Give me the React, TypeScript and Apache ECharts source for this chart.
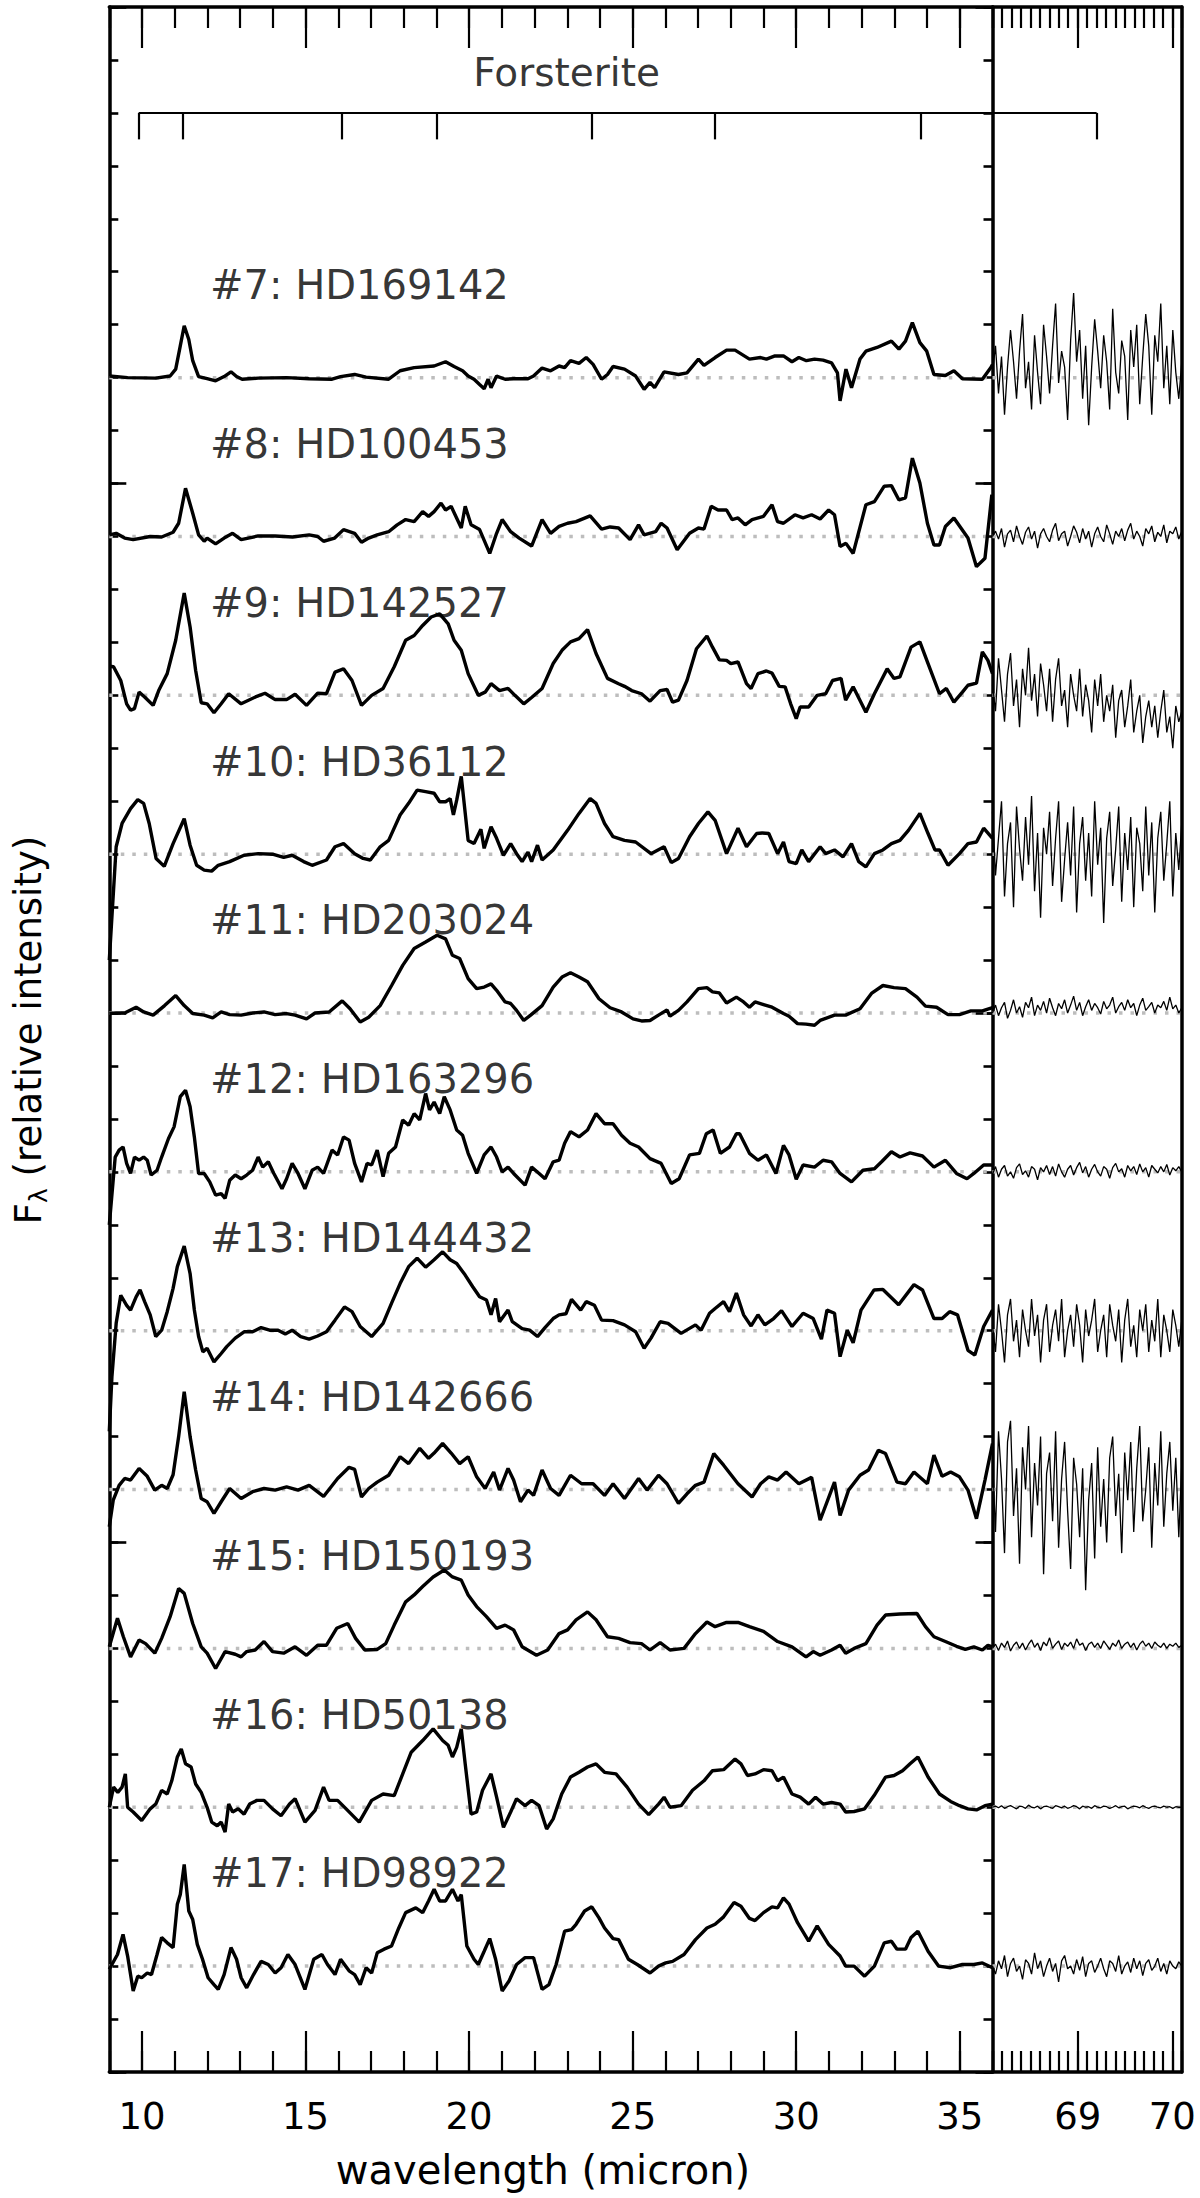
import React, { useEffect, useRef } from "react";
import * as echarts from "echarts";

const FONT = "'DejaVu Sans', 'Liberation Sans', sans-serif";

const LEFT_X_MIN = 9;
const LEFT_X_MAX = 36;
const RIGHT_X_MIN = 68.1;
const RIGHT_X_MAX = 70.1;
const Y_MIN = 0;
const Y_MAX = 39;

const LEFT_MAJOR_TICKS = [10, 15, 20, 25, 30, 35];
const LEFT_MINOR_TICKS = [9, 10, 11, 12, 13, 14, 15, 16, 17, 18, 19, 20, 21, 22, 23, 24, 25, 26, 27, 28, 29, 30, 31, 32, 33, 34, 35, 36];
const RIGHT_MAJOR_TICKS = [69, 70];
const RIGHT_MINOR_TICKS = [68.1, 68.2, 68.3, 68.4, 68.5, 68.6, 68.7, 68.8, 68.9, 69, 69.1, 69.2, 69.3, 69.4, 69.5, 69.6, 69.7, 69.8, 69.9, 70, 70.1];

const NAMES = ["#7: HD169142", "#8: HD100453", "#9: HD142527", "#10: HD36112", "#11: HD203024", "#12: HD163296", "#13: HD144432", "#14: HD142666", "#15: HD150193", "#16: HD50138", "#17: HD98922"];
const BASELINES = [32, 29, 26, 23, 20, 17, 14, 11, 8, 5, 2];
const LABEL_X = 12.08;
const LABEL_DY = 1.75;

const FORSTERITE_BANDS_LEFT = [9.9, 11.25, 16.1, 19.0, 23.75, 27.5, 33.8];
const FORSTERITE_BANDS_RIGHT = [69.2];
const FORSTERITE_Y = 37;
const FORSTERITE_TICK = 0.5;
const FORSTERITE_LABEL = [22.98, 37.77];

const S7 = [[9.0,0.03],[9.56,0],[10.42,-0.01],[10.86,0.03],[11.03,0.16],[11.17,0.6],[11.29,0.98],[11.43,0.72],[11.55,0.32],[11.73,0.02],[11.99,-0.02],[12.25,-0.06],[12.51,0.02],[12.72,0.11],[12.89,0.02],[13.06,-0.03],[13.55,-0.01],[14.42,0],[15.11,-0.02],[15.81,-0.03],[16.07,0.02],[16.5,0.06],[16.85,0.01],[17.54,-0.03],[17.89,0.13],[18.32,0.19],[18.93,0.22],[19.28,0.3],[19.54,0.21],[19.8,0.13],[19.97,0.03],[20.15,-0.03],[20.32,-0.13],[20.46,-0.21],[20.58,-0.03],[20.67,-0.19],[20.84,0.03],[21.1,-0.03],[21.36,-0.02],[21.8,-0.02],[21.97,0.03],[22.23,0.18],[22.49,0.13],[22.75,0.22],[22.92,0.19],[23.1,0.32],[23.36,0.27],[23.58,0.38],[23.79,0.25],[24.05,-0.03],[24.23,0.06],[24.4,0.21],[24.75,0.16],[25.09,0.03],[25.35,-0.22],[25.53,-0.09],[25.67,-0.19],[25.96,0.11],[26.4,0.06],[26.66,0.09],[27.01,0.35],[27.18,0.23],[27.52,0.38],[27.87,0.52],[28.13,0.52],[28.57,0.35],[28.91,0.38],[29.09,0.35],[29.35,0.41],[29.61,0.41],[29.87,0.3],[30.08,0.38],[30.31,0.32],[30.56,0.35],[30.82,0.33],[31.08,0.28],[31.26,0.09],[31.34,-0.44],[31.52,0.16],[31.69,-0.19],[31.95,0.35],[32.13,0.5],[32.47,0.57],[32.91,0.69],[33.14,0.54],[33.34,0.69],[33.55,1.04],[33.78,0.66],[33.99,0.5],[34.21,0.06],[34.56,0.04],[34.82,0.13],[35.08,-0.02],[35.69,-0.03],[35.95,0.19],[36.0,0.25]];

const S8 = [[9.0,0.03],[9.21,0.06],[9.47,-0.03],[9.73,-0.06],[10.25,0],[10.6,-0.01],[10.95,0.08],[11.12,0.25],[11.33,0.91],[11.55,0.44],[11.73,0.03],[11.9,-0.09],[11.99,-0.03],[12.25,-0.14],[12.51,-0.03],[12.77,0.06],[13.03,-0.06],[13.55,0.01],[14.07,0.01],[14.6,-0.01],[15.11,0.03],[15.37,0],[15.55,-0.09],[15.89,-0.03],[16.16,0.13],[16.5,0.06],[16.71,-0.11],[16.93,-0.03],[17.19,0.03],[17.54,0.09],[17.8,0.22],[18.06,0.32],[18.32,0.28],[18.58,0.47],[18.76,0.38],[18.93,0.47],[19.14,0.63],[19.28,0.5],[19.45,0.57],[19.76,0.16],[19.88,0.57],[20.06,0.22],[20.32,0.13],[20.63,-0.32],[20.84,0.06],[21.01,0.32],[21.27,0.09],[21.53,-0.03],[21.91,-0.18],[22.23,0.32],[22.49,0.06],[22.75,0.19],[23.01,0.25],[23.27,0.28],[23.7,0.39],[24.05,0.14],[24.31,0.18],[24.57,0.16],[24.92,-0.06],[25.18,0.22],[25.35,0.03],[25.7,0.09],[25.87,0.25],[26.05,0.16],[26.36,-0.25],[26.74,0.06],[27.01,0.16],[27.18,0.14],[27.4,0.57],[27.61,0.5],[27.87,0.5],[28.04,0.32],[28.22,0.35],[28.44,0.22],[28.65,0.32],[29.0,0.38],[29.26,0.6],[29.43,0.28],[29.61,0.25],[29.96,0.41],[30.21,0.35],[30.47,0.41],[30.73,0.33],[30.99,0.5],[31.17,0.41],[31.34,-0.19],[31.52,-0.13],[31.74,-0.32],[32.13,0.6],[32.39,0.66],[32.69,0.95],[32.91,0.96],[33.14,0.69],[33.34,0.73],[33.55,1.48],[33.78,1.01],[34.01,0.25],[34.21,-0.16],[34.38,-0.16],[34.56,0.19],[34.82,0.35],[35.25,-0.03],[35.51,-0.57],[35.77,-0.41],[35.98,0.79]];

const S9 = [[9.0,0.55],[9.13,0.54],[9.35,0.28],[9.53,-0.16],[9.65,-0.28],[9.77,-0.25],[9.91,0.06],[10.08,-0.03],[10.34,-0.19],[10.51,0.09],[10.77,0.41],[11.03,1.04],[11.29,1.93],[11.47,1.29],[11.64,0.47],[11.81,-0.14],[11.99,-0.16],[12.2,-0.33],[12.42,-0.16],[12.65,0.03],[13.03,-0.16],[13.47,-0.03],[13.76,0.04],[14.07,-0.08],[14.42,-0.08],[14.68,0.02],[15.03,-0.19],[15.37,0.04],[15.64,0.03],[15.9,0.44],[16.16,0.5],[16.42,0.28],[16.71,-0.19],[17.02,0],[17.37,0.13],[17.71,0.54],[18.06,1.04],[18.32,1.13],[18.58,1.32],[18.84,1.48],[19.1,1.54],[19.36,1.35],[19.54,1.04],[19.76,0.85],[19.97,0.41],[20.28,0],[20.49,0.06],[20.67,0.22],[20.93,0.09],[21.19,0.13],[21.4,0],[21.67,-0.16],[21.91,-0.04],[22.23,0.13],[22.57,0.6],[22.84,0.85],[23.1,1.01],[23.36,1.07],[23.62,1.24],[23.88,0.79],[24.23,0.32],[24.57,0.22],[24.75,0.17],[24.97,0.09],[25.27,0.03],[25.53,-0.11],[25.84,0.09],[26.05,0.11],[26.22,-0.13],[26.4,-0.09],[26.66,0.28],[26.95,0.88],[27.27,1.12],[27.44,0.91],[27.65,0.67],[27.87,0.66],[28.0,0.6],[28.22,0.63],[28.48,0.22],[28.62,0.13],[28.83,0.41],[29.09,0.46],[29.26,0.42],[29.48,0.17],[29.66,0.16],[29.83,-0.16],[30.0,-0.44],[30.12,-0.22],[30.38,-0.22],[30.64,0],[30.9,0.03],[31.11,0.28],[31.37,0.32],[31.51,-0.09],[31.74,0.16],[32.13,-0.32],[32.39,0.03],[32.78,0.5],[32.99,0.32],[33.17,0.35],[33.51,0.91],[33.78,1.01],[34.03,0.6],[34.38,0.03],[34.59,0.13],[34.82,-0.13],[35.08,0.06],[35.25,0.19],[35.51,0.23],[35.69,0.82],[35.86,0.66],[36.0,0.41]];

const S10 = [[9.0,-2.0],[9.21,0.14],[9.39,0.58],[9.65,0.86],[9.87,1.03],[10.05,0.96],[10.22,0.58],[10.43,-0.08],[10.68,-0.23],[10.95,0.2],[11.29,0.67],[11.47,0.17],[11.67,-0.21],[11.9,-0.3],[12.13,-0.32],[12.33,-0.21],[12.68,-0.14],[13.12,-0.02],[13.55,0.01],[13.99,0],[14.33,-0.06],[14.59,-0.02],[14.94,-0.14],[15.2,-0.21],[15.64,-0.11],[15.9,0.14],[16.16,0.2],[16.5,0.01],[16.76,-0.08],[16.98,-0.11],[17.28,0.14],[17.54,0.26],[17.89,0.74],[18.15,0.96],[18.41,1.21],[18.67,1.18],[18.93,1.15],[19.1,0.99],[19.28,0.99],[19.42,1.05],[19.52,0.74],[19.62,1.02],[19.76,1.47],[19.97,0.26],[20.15,0.2],[20.36,0.47],[20.46,0.11],[20.67,0.52],[20.84,0.3],[21.05,-0.02],[21.27,0.2],[21.45,0.01],[21.62,-0.14],[21.8,0.04],[21.91,-0.14],[22.09,0.17],[22.23,-0.11],[22.57,0.08],[23.01,0.45],[23.36,0.77],[23.7,1.05],[23.88,0.96],[24.14,0.58],[24.4,0.33],[24.75,0.26],[25.09,0.23],[25.56,0.01],[25.96,0.14],[26.18,-0.16],[26.4,-0.08],[26.74,0.33],[27.01,0.58],[27.3,0.8],[27.52,0.64],[27.87,0.01],[28.22,0.49],[28.48,0.14],[28.79,0.39],[28.96,0.4],[29.16,0.39],[29.43,0.01],[29.61,0.23],[29.78,-0.14],[30.0,-0.18],[30.17,0.08],[30.38,-0.14],[30.73,0.14],[30.9,0.01],[31.17,0.08],[31.43,-0.05],[31.69,0.2],[31.91,-0.14],[32.13,-0.24],[32.39,0.01],[32.65,0.08],[32.91,0.2],[33.17,0.26],[33.43,0.45],[33.78,0.77],[34.03,0.39],[34.24,0.08],[34.38,0.08],[34.64,-0.21],[34.99,0.01],[35.25,0.2],[35.51,0.23],[35.73,0.49],[36.0,0.3]];

const S11 = [[9.0,-0.01],[9.21,0],[9.47,0],[9.82,0.11],[10.05,0.02],[10.34,-0.04],[10.69,0.14],[11.03,0.33],[11.29,0.14],[11.55,-0.01],[11.9,-0.04],[12.16,-0.09],[12.42,0.02],[12.68,-0.03],[13.03,-0.04],[13.38,0],[13.73,0.02],[14.07,-0.03],[14.42,-0.01],[14.68,-0.04],[15.03,-0.11],[15.29,0],[15.72,0.02],[16.12,0.23],[16.36,0.08],[16.67,-0.17],[16.93,-0.08],[17.28,0.14],[17.63,0.52],[17.97,0.9],[18.32,1.22],[18.67,1.34],[19.02,1.47],[19.28,1.4],[19.49,1.09],[19.71,1.03],[19.97,0.65],[20.23,0.46],[20.46,0.49],[20.67,0.55],[20.84,0.43],[21.1,0.21],[21.27,0.18],[21.45,0.05],[21.67,-0.14],[21.88,-0.04],[22.23,0.14],[22.57,0.49],[22.84,0.68],[23.1,0.76],[23.36,0.68],[23.62,0.59],[23.97,0.27],[24.31,0.1],[24.66,0.02],[25.01,-0.11],[25.27,-0.15],[25.53,-0.14],[25.79,-0.04],[26.05,0.06],[26.14,-0.06],[26.4,0.05],[26.66,0.21],[27.01,0.46],[27.27,0.48],[27.44,0.4],[27.65,0.38],[27.87,0.19],[28.17,0.3],[28.39,0.21],[28.57,0.11],[28.74,0.21],[29.0,0.16],[29.26,0.11],[29.61,-0.01],[29.78,-0.06],[30.04,-0.2],[30.3,-0.21],[30.56,-0.23],[30.73,-0.14],[31.17,-0.04],[31.51,-0.04],[31.95,0.08],[32.3,0.37],[32.65,0.52],[32.99,0.48],[33.34,0.46],[33.69,0.3],[33.95,0.13],[34.29,0.11],[34.64,-0.03],[34.99,-0.03],[35.34,0.04],[35.69,0.04],[36.0,0.1]];

const S12 = [[9.0,-1.0],[9.18,0.28],[9.3,0.41],[9.42,0.47],[9.53,0.16],[9.65,-0.03],[9.77,0.28],[9.91,0.22],[10.05,0.28],[10.16,0.22],[10.28,-0.06],[10.46,0.03],[10.6,0.28],[10.81,0.63],[10.98,0.85],[11.17,1.42],[11.33,1.54],[11.47,1.23],[11.6,0.66],[11.73,-0.03],[11.9,-0.03],[12.07,-0.19],[12.25,-0.44],[12.42,-0.41],[12.54,-0.5],[12.68,-0.16],[12.85,-0.06],[13.03,-0.13],[13.2,-0.06],[13.38,0.03],[13.55,0.28],[13.69,0.09],[13.86,0.19],[14.03,-0.03],[14.28,-0.32],[14.42,-0.13],[14.59,0.16],[14.77,-0.03],[14.98,-0.32],[15.2,0.03],[15.37,0.09],[15.55,-0.03],[15.81,0.41],[15.98,0.32],[16.16,0.66],[16.33,0.6],[16.5,0.16],[16.71,-0.19],[16.88,0.16],[17.02,0.13],[17.19,0.41],[17.37,-0.09],[17.54,0.35],[17.75,0.47],[17.97,0.98],[18.15,0.88],[18.32,1.1],[18.49,0.98],[18.67,1.48],[18.79,1.17],[18.93,1.32],[19.1,1.1],[19.24,1.42],[19.42,1.17],[19.62,0.79],[19.8,0.69],[19.97,0.35],[20.23,-0.03],[20.46,0.32],[20.67,0.47],[20.84,0.28],[21.01,0],[21.19,0.09],[21.36,-0.03],[21.71,-0.25],[21.91,0.09],[22.14,-0.03],[22.32,-0.13],[22.57,0.19],[22.75,0.22],[22.92,0.54],[23.1,0.76],[23.36,0.66],[23.62,0.79],[23.88,1.1],[24.14,0.91],[24.4,0.91],[24.66,0.69],[24.92,0.54],[25.18,0.47],[25.53,0.25],[25.87,0.16],[26.18,-0.22],[26.42,-0.13],[26.74,0.32],[27.04,0.35],[27.25,0.72],[27.46,0.79],[27.68,0.35],[27.96,0.47],[28.17,0.72],[28.27,0.72],[28.57,0.35],[28.83,0.22],[29.09,0.32],[29.38,-0.03],[29.61,0.5],[29.78,0.32],[30.0,-0.14],[30.21,0.13],[30.56,0.09],[30.82,0.22],[31.08,0.19],[31.34,-0.03],[31.69,-0.19],[32.04,0.03],[32.39,0.06],[32.61,0.19],[32.91,0.38],[33.17,0.28],[33.48,0.36],[33.86,0.3],[34.21,0.09],[34.56,0.22],[34.9,-0.03],[35.22,-0.13],[35.43,-0.03],[35.73,0.13],[36.0,0.13]];

const S13 = [[9.0,-1.9],[9.08,-0.87],[9.21,0.14],[9.35,0.67],[9.53,0.48],[9.65,0.39],[9.82,0.64],[9.94,0.77],[10.08,0.55],[10.25,0.3],[10.42,-0.11],[10.6,0.01],[10.77,0.36],[10.95,0.8],[11.08,1.21],[11.29,1.6],[11.47,1.08],[11.6,0.39],[11.73,-0.11],[11.86,-0.4],[11.99,-0.33],[12.2,-0.59],[12.42,-0.43],[12.59,-0.3],[12.85,-0.14],[13.12,-0.02],[13.38,-0.02],[13.64,0.06],[13.9,0.01],[14.16,0.01],[14.38,-0.06],[14.59,0.01],[14.85,-0.11],[15.11,-0.16],[15.37,-0.1],[15.64,-0.02],[15.9,0.2],[16.19,0.45],[16.42,0.36],[16.67,0.08],[17.02,-0.11],[17.37,0.14],[17.63,0.52],[17.89,0.89],[18.15,1.21],[18.41,1.37],[18.67,1.2],[18.93,1.34],[19.19,1.49],[19.42,1.34],[19.62,1.27],[19.88,1.05],[20.11,0.83],[20.32,0.64],[20.53,0.58],[20.67,0.3],[20.81,0.61],[20.93,0.17],[21.19,0.39],[21.32,0.17],[21.62,0.04],[21.85,0.01],[22.09,-0.11],[22.32,0.06],[22.57,0.23],[22.75,0.3],[22.96,0.32],[23.13,0.59],[23.41,0.39],[23.58,0.55],[23.83,0.48],[24.05,0.2],[24.4,0.19],[24.75,0.11],[25.09,-0.02],[25.35,-0.33],[25.56,-0.14],[25.84,0.17],[26.08,0.14],[26.48,-0.05],[26.92,0.11],[27.09,0.01],[27.35,0.33],[27.52,0.42],[27.78,0.55],[27.96,0.36],[28.17,0.71],[28.39,0.3],[28.62,0.09],[28.83,0.3],[29.04,0.11],[29.31,0.23],[29.55,0.38],[29.87,0.08],[30.21,0.33],[30.52,0.23],[30.77,-0.16],[30.94,0.39],[31.17,0.33],[31.34,-0.49],[31.56,0.01],[31.74,-0.23],[31.98,0.39],[32.38,0.77],[32.65,0.78],[33.13,0.49],[33.6,0.87],[33.86,0.77],[34.21,0.23],[34.46,0.23],[34.69,0.36],[34.93,0.3],[35.25,-0.37],[35.46,-0.46],[35.73,0.08],[36.0,0.39]];

const S14 = [[9.0,-0.7],[9.12,-0.2],[9.3,0.08],[9.47,0.21],[9.65,0.18],[9.91,0.4],[10.16,0.25],[10.39,-0.01],[10.6,0.08],[10.77,0.02],[10.95,0.28],[11.12,1.0],[11.29,1.85],[11.47,1.0],[11.64,0.37],[11.81,-0.17],[11.99,-0.23],[12.2,-0.45],[12.42,-0.23],[12.68,0.02],[13.03,-0.17],[13.38,-0.04],[13.73,0.02],[14.07,-0.01],[14.42,0.05],[14.77,-0.01],[15.11,0.08],[15.55,-0.13],[15.98,0.21],[16.33,0.42],[16.5,0.38],[16.71,-0.14],[16.93,0.02],[17.19,0.14],[17.54,0.27],[17.89,0.62],[18.15,0.49],[18.49,0.78],[18.76,0.59],[18.93,0.69],[19.19,0.87],[19.45,0.69],[19.71,0.49],[19.97,0.62],[20.23,0.24],[20.49,0.02],[20.75,0.33],[20.93,-0.01],[21.19,0.4],[21.36,0.18],[21.57,-0.23],[21.8,-0.01],[21.97,-0.11],[22.23,0.37],[22.49,0.02],[22.75,-0.11],[23.1,0.27],[23.44,0.11],[23.79,0.11],[24.14,-0.11],[24.4,0.11],[24.75,-0.17],[25.18,0.21],[25.44,-0.01],[25.79,0.27],[26.05,0.11],[26.4,-0.26],[26.66,-0.08],[26.92,0.08],[27.18,0.14],[27.48,0.68],[27.78,0.46],[28.22,0.11],[28.65,-0.14],[28.91,0.11],[29.16,0.24],[29.43,0.18],[29.69,0.33],[30.08,0.11],[30.47,0.23],[30.73,-0.58],[31.17,0.14],[31.34,-0.49],[31.6,-0.01],[31.95,0.27],[32.21,0.37],[32.51,0.74],[32.73,0.68],[33.08,0.14],[33.34,0.11],[33.6,0.33],[34.01,0.11],[34.21,0.65],[34.46,0.25],[34.72,0.33],[34.99,0.24],[35.25,-0.01],[35.51,-0.55],[35.77,0.18],[36.0,0.87]];

const S15 = [[9.0,0.03],[9.25,0.57],[9.43,0.22],[9.65,-0.16],[9.91,0.16],[10.11,0.09],[10.39,-0.09],[10.6,0.19],[10.86,0.6],[11.12,1.13],[11.29,1.04],[11.55,0.47],[11.81,0.03],[11.99,-0.09],[12.25,-0.38],[12.54,-0.06],[12.85,-0.11],[13.03,-0.16],[13.2,-0.06],[13.46,-0.03],[13.73,0.13],[13.99,-0.06],[14.33,-0.09],[14.68,0.03],[15.03,-0.13],[15.37,0.06],[15.64,0.06],[15.95,0.38],[16.29,0.47],[16.53,0.19],[16.81,-0.03],[17.19,-0.02],[17.45,0.09],[17.71,0.44],[18.06,0.88],[18.32,1.01],[18.58,1.17],[18.9,1.35],[19.24,1.48],[19.49,1.35],[19.76,1.29],[19.97,1.01],[20.23,0.79],[20.53,0.6],[20.84,0.38],[21.1,0.44],[21.36,0.35],[21.62,0.03],[22.06,-0.13],[22.4,-0.03],[22.75,0.28],[23.01,0.35],[23.27,0.54],[23.62,0.69],[23.88,0.54],[24.23,0.22],[24.57,0.19],[24.92,0.11],[25.27,0.09],[25.53,-0.03],[25.84,0.11],[26.14,-0.03],[26.57,0],[26.92,0.28],[27.27,0.5],[27.52,0.41],[27.87,0.49],[28.22,0.49],[28.57,0.41],[29.0,0.32],[29.43,0.13],[29.87,0.03],[30.3,-0.16],[30.52,-0.06],[30.73,-0.13],[31.08,-0.03],[31.34,0.06],[31.51,-0.09],[31.77,0],[32.13,0.09],[32.47,0.44],[32.73,0.63],[33.17,0.65],[33.69,0.66],[33.95,0.41],[34.21,0.22],[34.56,0.13],[34.9,0.04],[35.17,-0.02],[35.43,0.03],[35.69,-0.03],[35.86,0.06],[36.0,0.03]];

const S16 = [[9.0,0],[9.13,0.38],[9.26,0.28],[9.39,0.38],[9.49,0.63],[9.56,0],[9.73,-0.09],[9.99,-0.25],[10.25,-0.03],[10.42,0.06],[10.6,0.32],[10.77,0.25],[10.91,0.5],[11.08,0.95],[11.2,1.1],[11.33,0.82],[11.5,0.76],[11.64,0.44],[11.81,0.28],[11.99,0],[12.13,-0.28],[12.3,-0.35],[12.42,-0.28],[12.54,-0.47],[12.65,0.06],[12.77,-0.09],[12.94,-0.03],[13.12,-0.13],[13.29,0.06],[13.51,0.13],[13.73,0.13],[13.99,-0.03],[14.25,-0.16],[14.51,0.06],[14.68,0.16],[14.98,-0.28],[15.29,-0.06],[15.55,0.38],[15.72,0.13],[15.98,0.13],[16.24,-0.03],[16.64,-0.28],[17.02,0.13],[17.37,0.25],[17.71,0.22],[17.97,0.63],[18.23,1.04],[18.58,1.26],[18.9,1.48],[19.19,1.26],[19.36,1.17],[19.49,0.95],[19.62,1.13],[19.76,1.48],[19.88,0.82],[20.06,-0.13],[20.23,-0.09],[20.41,0.32],[20.67,0.63],[20.84,0.19],[21.05,-0.38],[21.27,-0.09],[21.45,0.16],[21.71,0.03],[21.91,0.13],[22.14,0.03],[22.37,-0.41],[22.57,-0.22],[22.83,0.25],[23.1,0.57],[23.36,0.66],[23.62,0.76],[23.88,0.82],[24.14,0.66],[24.49,0.63],[24.83,0.38],[25.18,0.06],[25.49,-0.14],[25.79,0.06],[25.96,0.19],[26.14,0],[26.48,0.03],[26.83,0.32],[27.18,0.5],[27.44,0.69],[27.78,0.71],[28.13,0.91],[28.31,0.82],[28.51,0.6],[28.74,0.63],[29.0,0.71],[29.26,0.69],[29.43,0.5],[29.61,0.57],[29.87,0.25],[30.12,0.19],[30.38,0.06],[30.59,0.19],[30.82,0.06],[31.08,0.09],[31.34,0.06],[31.51,-0.09],[31.77,-0.08],[32.09,-0.03],[32.38,0.22],[32.73,0.57],[32.99,0.6],[33.25,0.69],[33.48,0.82],[33.72,0.95],[34.03,0.57],[34.38,0.25],[34.72,0.11],[34.99,0.03],[35.25,-0.03],[35.51,-0.05],[35.77,0.03],[36.0,0.06]];

const S17 = [[9.0,-0.06],[9.08,0.03],[9.25,0.22],[9.42,0.6],[9.56,0.19],[9.73,-0.47],[9.87,-0.19],[9.99,-0.22],[10.16,-0.13],[10.29,-0.16],[10.46,0.22],[10.6,0.54],[10.77,0.44],[10.95,0.35],[11.08,1.17],[11.17,1.35],[11.29,1.92],[11.43,1.04],[11.55,0.88],[11.69,0.41],[11.85,0.13],[12.02,-0.22],[12.2,-0.35],[12.33,-0.44],[12.51,-0.16],[12.72,0.35],[12.89,0.13],[13.03,-0.22],[13.2,-0.41],[13.41,-0.16],[13.64,0.09],[13.86,0.03],[14.07,-0.13],[14.25,-0.03],[14.46,0.22],[14.68,0.03],[14.98,-0.44],[15.25,0.13],[15.5,0.22],[15.67,0.03],[15.9,-0.16],[16.07,0.13],[16.33,-0.09],[16.5,-0.16],[16.67,-0.35],[16.85,-0.03],[17.02,-0.13],[17.19,0.25],[17.4,0.32],[17.63,0.38],[17.85,0.72],[18.06,1.01],[18.37,1.1],[18.58,1.01],[18.76,1.23],[18.93,1.45],[19.1,1.23],[19.28,1.23],[19.49,1.45],[19.66,1.23],[19.76,1.35],[19.93,0.38],[20.15,0.13],[20.28,0.03],[20.46,0.28],[20.63,0.52],[20.81,0.13],[21.01,-0.47],[21.22,-0.28],[21.45,0.03],[21.71,0.16],[21.97,0.16],[22.23,-0.44],[22.44,-0.35],[22.66,0.03],[22.92,0.66],[23.13,0.69],[23.27,0.79],[23.53,1.04],[23.75,1.12],[23.97,0.91],[24.14,0.72],[24.4,0.52],[24.57,0.5],[24.87,0.13],[25.14,0.03],[25.53,-0.13],[25.79,0],[26.01,0.06],[26.22,0.09],[26.57,0.22],[26.92,0.5],[27.27,0.72],[27.52,0.79],[27.78,0.93],[28.1,1.2],[28.31,1.13],[28.57,0.9],[28.74,0.86],[29.0,1.01],[29.26,1.12],[29.43,1.1],[29.61,1.29],[29.78,1.17],[30.04,0.82],[30.38,0.47],[30.64,0.76],[30.99,0.41],[31.34,0.19],[31.51,0],[31.77,0],[32.09,-0.19],[32.39,0],[32.69,0.44],[32.91,0.47],[33.08,0.32],[33.34,0.32],[33.51,0.54],[33.72,0.66],[34.03,0.28],[34.35,0],[34.72,-0.03],[35.08,0.03],[35.43,0.03],[35.69,0.06],[36.0,-0.03]];

const LEFT_SPECTRA = [S7, S8, S9, S10, S11, S12, S13, S14, S15, S16, S17];

// 69 micron region: relative flux sampled evenly from RIGHT_X_MIN to RIGHT_X_MAX
const R7 = [0.1,0.6,-0.3,0.4,-0.7,0.2,0.9,0.3,-0.4,0.5,1.2,-0.2,0.3,-0.6,0.8,0.1,-0.5,1.0,0.4,-0.3,0.6,1.4,-0.1,0.5,0.2,-0.8,0.7,1.6,0.3,0.9,-0.4,0.6,-0.9,0.2,1.1,0.5,-0.2,0.8,0.3,-0.6,1.3,0.1,-0.3,0.7,0.4,-0.8,0.9,0.2,1.0,-0.5,0.4,1.2,0.6,-0.7,0.8,0.3,1.4,-0.2,0.6,-0.5,0.9,0.1,-0.4,0.3];
const R8 = [0.0,0.1,-0.05,0.15,-0.2,0.05,0.12,-0.1,0.2,0.0,-0.15,0.08,0.18,-0.05,0.1,-0.22,0.05,0.15,0.0,-0.1,0.12,0.25,-0.08,0.05,0.1,-0.18,0.0,0.2,0.08,-0.12,0.15,-0.05,0.1,-0.2,0.05,0.18,0.0,-0.1,0.22,0.05,-0.15,0.1,0.0,0.15,-0.08,0.12,0.25,-0.05,0.1,0.0,-0.18,0.15,0.05,0.2,-0.1,0.08,0.0,0.22,-0.12,0.1,0.05,0.18,-0.05,0.1];
const R9 = [0.2,-0.3,0.7,0.1,-0.5,0.4,0.8,-0.2,0.3,-0.6,0.5,0.0,0.9,-0.1,0.4,-0.4,0.6,0.2,-0.3,0.5,-0.5,0.3,0.7,-0.2,0.1,-0.6,0.4,0.0,-0.3,0.5,-0.4,0.2,-0.1,-0.7,0.3,-0.2,0.4,-0.5,0.0,-0.3,0.2,-0.8,-0.1,0.1,-0.6,-0.2,0.3,-0.7,-0.3,0.0,-0.9,-0.4,-0.1,-0.6,-0.2,-0.8,-0.3,0.1,-0.7,-0.4,-1.0,-0.2,-0.5,-0.3];
const R10 = [0.8,-0.4,0.3,1.0,-0.8,0.2,0.6,-1.0,0.9,0.1,-0.5,0.7,-0.2,1.1,-0.7,0.4,-1.2,0.5,0.0,0.8,-0.6,0.3,1.0,-0.9,-0.1,0.6,-0.4,0.9,-1.1,0.2,0.7,-0.5,0.4,-0.8,1.0,-0.2,0.5,-1.3,0.3,0.8,-0.6,0.1,0.9,-0.9,0.4,-0.3,0.7,-1.0,0.5,0.2,-0.7,0.9,-0.4,0.6,-1.1,0.3,0.8,-0.5,0.2,1.0,-0.8,0.4,-0.3,0.6];
const R11 = [0.0,0.15,-0.05,0.1,0.2,-0.1,0.05,0.25,0.0,0.12,-0.08,0.2,0.1,0.3,-0.05,0.15,0.05,0.22,0.0,0.28,0.1,-0.05,0.18,0.08,0.25,0.0,0.15,0.32,0.05,0.2,-0.05,0.12,0.25,0.05,0.18,0.1,-0.02,0.22,0.08,0.15,0.3,0.0,0.12,0.2,0.05,0.25,0.1,0.18,-0.05,0.15,0.28,0.05,0.12,0.2,0.0,0.15,0.1,0.22,0.05,0.3,0.08,0.15,0.0,0.1];
const R12 = [-0.05,0.1,-0.1,0.05,0.12,-0.08,0.0,-0.12,0.08,0.15,-0.05,0.02,-0.1,0.1,0.05,-0.15,0.08,0.0,0.12,-0.05,0.1,-0.08,0.15,0.0,-0.1,0.05,0.12,-0.06,0.08,0.18,-0.02,0.1,-0.1,0.05,0.14,0.0,-0.08,0.1,0.05,-0.12,0.08,0.16,0.0,0.06,-0.1,0.12,0.02,0.1,-0.05,0.15,0.0,0.08,-0.1,0.12,0.05,-0.02,0.1,0.0,0.14,-0.06,0.08,0.02,0.1,0.0];
const R13 = [0.1,-0.4,0.5,0.0,-0.6,0.3,0.6,-0.2,0.2,-0.5,0.4,0.0,-0.3,0.6,-0.1,0.3,-0.6,0.2,0.5,-0.4,0.1,0.4,-0.2,0.6,-0.5,0.0,0.3,-0.3,0.5,0.1,-0.6,0.4,-0.1,0.2,0.6,-0.4,0.0,0.3,-0.5,0.5,0.1,-0.2,0.4,-0.6,0.2,0.6,-0.3,0.1,-0.5,0.4,0.0,0.5,-0.4,0.2,-0.2,0.6,-0.5,0.3,0.0,-0.4,0.4,0.1,-0.3,0.2];
const R14 = [0.6,-0.8,1.1,0.2,-1.2,0.9,1.3,-0.5,0.4,-1.4,0.8,0.0,1.2,-0.9,0.5,-0.3,1.0,-1.6,0.3,0.7,-0.6,1.1,-1.1,0.2,0.9,-0.4,-1.5,0.6,0.1,-0.9,0.4,-1.9,-0.2,0.5,-1.3,0.8,-0.7,0.2,-1.0,0.6,1.0,-0.5,0.3,-1.2,0.7,-0.2,0.9,-0.8,0.4,1.2,-0.6,0.0,0.8,-1.1,0.5,-0.3,1.1,-0.7,0.3,0.9,-0.4,0.6,-0.9,0.5];
const R15 = [0.0,0.08,-0.04,0.1,0.02,0.14,-0.05,0.06,0.12,0.0,0.1,-0.03,0.08,0.16,0.02,0.1,-0.04,0.12,0.05,0.2,0.0,0.08,0.14,-0.02,0.1,0.04,0.12,0.0,0.18,0.06,0.1,-0.04,0.08,0.12,0.02,0.1,0.0,0.14,0.06,-0.02,0.1,0.04,0.16,0.0,0.08,0.12,0.02,0.1,-0.03,0.08,0.14,0.04,0.1,0.0,0.12,0.06,0.02,0.1,0.0,0.08,0.04,0.1,0.02,0.06];
const R16 = [0.0,0.02,-0.01,0.03,-0.02,0.01,0.03,0.0,-0.03,0.02,0.01,-0.02,0.04,0.0,-0.01,0.02,-0.03,0.01,0.02,0.0,-0.02,0.03,0.01,-0.01,0.02,-0.02,0.0,0.03,0.01,-0.03,0.02,0.0,0.01,-0.02,0.03,0.0,-0.01,0.02,0.01,-0.02,0.0,0.03,-0.01,0.01,0.02,-0.03,0.0,0.02,0.01,-0.01,0.03,0.0,-0.02,0.01,0.02,0.0,-0.01,0.02,0.0,0.01,-0.02,0.01,0.0,0.0];
const R17 = [0.0,-0.15,0.1,-0.05,0.2,-0.2,0.05,0.15,-0.1,0.0,-0.25,0.12,0.05,-0.15,0.25,-0.05,0.1,-0.2,0.0,0.15,-0.1,0.05,-0.3,0.1,0.2,-0.05,0.0,-0.15,0.12,-0.08,0.18,-0.2,0.05,0.1,-0.12,0.0,0.15,-0.05,-0.2,0.1,0.05,-0.1,0.2,-0.15,0.0,0.08,-0.12,0.15,-0.05,0.1,-0.18,0.05,0.12,-0.08,0.0,0.15,-0.1,0.05,-0.15,0.1,0.0,-0.05,0.08,0.0];

const RIGHT_SPECTRA = [R7, R8, R9, R10, R11, R12, R13, R14, R15, R16, R17];

function xAxisDef(gridIndex: number, position: string, min: number, max: number, ticks: number[], len: number, labels: boolean, line: boolean) {
  return {
    type: "value",
    gridIndex,
    position,
    min,
    max,
    splitLine: { show: false },
    axisLine: { show: line, onZero: false, lineStyle: { color: "#000", width: 3.5 } },
    axisTick: { show: true, inside: true, length: len, customValues: ticks, lineStyle: { color: "#000", width: 2.2 } },
    axisLabel: labels
      ? { show: true, customValues: ticks, margin: 26, fontSize: 37, fontFamily: FONT, color: "#000" }
      : { show: false },
  };
}

function yAxisDef(gridIndex: number, position: string, interval: number, len: number, line: boolean, ticks: boolean) {
  return {
    type: "value",
    gridIndex,
    position,
    min: Y_MIN,
    max: Y_MAX,
    interval,
    splitLine: { show: false },
    axisLine: { show: line, onZero: false, lineStyle: { color: "#000", width: 3.5 } },
    axisTick: { show: ticks, inside: true, length: len, lineStyle: { color: "#000", width: 2.6 } },
    axisLabel: { show: false },
  };
}

export default function App() {
  const ref = useRef<HTMLDivElement>(null);
  useEffect(() => {
    if (!ref.current) return;
    const chart = echarts.init(ref.current, null, { renderer: "svg" });
    const series: any[] = [];

    BASELINES.forEach((b, i) => {
      const r = RIGHT_SPECTRA[i];
      const rightStep = (RIGHT_X_MAX - RIGHT_X_MIN) / (r.length - 1);
      series.push({
        type: "line", xAxisIndex: 0, yAxisIndex: 0, silent: true, showSymbol: false, z: 1,
        data: [[LEFT_X_MIN, b], [LEFT_X_MAX, b]],
        lineStyle: { color: "#bdbdbd", width: 3.5, type: [3.5, 8] },
      });
      series.push({
        type: "line", xAxisIndex: 4, yAxisIndex: 4, silent: true, showSymbol: false, z: 1,
        data: [[RIGHT_X_MIN, b], [RIGHT_X_MAX, b]],
        lineStyle: { color: "#bdbdbd", width: 3.5, type: [3.5, 8] },
      });
      series.push({
        type: "line", xAxisIndex: 0, yAxisIndex: 0, silent: true, showSymbol: false, z: 3,
        data: LEFT_SPECTRA[i].map(([x, y]) => [x, b + y]),
        lineStyle: { color: "#000", width: 3.4 },
      });
      series.push({
        type: "line", xAxisIndex: 4, yAxisIndex: 4, silent: true, showSymbol: false, z: 3,
        data: r.map((y, j) => [RIGHT_X_MIN + j * rightStep, b + y]),
        lineStyle: { color: "#000", width: 1.3 },
      });
    });

    series.push({
      type: "scatter", xAxisIndex: 0, yAxisIndex: 0, silent: true, symbolSize: 0, z: 5,
      data: NAMES.map((n, i) => ({ name: n, value: [LABEL_X, BASELINES[i] + LABEL_DY] })),
      label: { show: true, position: "right", distance: 0, formatter: "{b}", fontSize: 40, fontFamily: FONT, color: "#000" },
    });

    // Forsterite band markers
    const leftSegs: any[] = [{ coords: [[FORSTERITE_BANDS_LEFT[0], FORSTERITE_Y], [LEFT_X_MAX, FORSTERITE_Y]] }];
    FORSTERITE_BANDS_LEFT.forEach((x) => leftSegs.push({ coords: [[x, FORSTERITE_Y], [x, FORSTERITE_Y - FORSTERITE_TICK]] }));
    const rightSegs: any[] = [{ coords: [[RIGHT_X_MIN, FORSTERITE_Y], [FORSTERITE_BANDS_RIGHT[0], FORSTERITE_Y]] }];
    FORSTERITE_BANDS_RIGHT.forEach((x) => rightSegs.push({ coords: [[x, FORSTERITE_Y], [x, FORSTERITE_Y - FORSTERITE_TICK]] }));
    series.push({
      type: "lines", coordinateSystem: "cartesian2d", xAxisIndex: 0, yAxisIndex: 0, silent: true, z: 4,
      data: leftSegs, lineStyle: { color: "#000", width: 2.2, opacity: 1 },
    });
    series.push({
      type: "lines", coordinateSystem: "cartesian2d", xAxisIndex: 4, yAxisIndex: 4, silent: true, z: 4,
      data: rightSegs, lineStyle: { color: "#000", width: 2.2, opacity: 1 },
    });
    series.push({
      type: "scatter", xAxisIndex: 0, yAxisIndex: 0, silent: true, symbolSize: 0, z: 5,
      data: [{ name: "Forsterite", value: FORSTERITE_LABEL }],
      label: { show: true, position: "inside", formatter: "{b}", fontSize: 39, fontFamily: FONT, color: "#000" },
    });

    const option: any = {
      animation: false,
      backgroundColor: "#fff",
      grid: [
        { left: 109.3, top: 7, width: 883.2, height: 2065 },
        { left: 992.5, top: 7, width: 189.3, height: 2065 },
      ],
      xAxis: [
        xAxisDef(0, "bottom", LEFT_X_MIN, LEFT_X_MAX, LEFT_MAJOR_TICKS, 41, true, true),
        xAxisDef(0, "bottom", LEFT_X_MIN, LEFT_X_MAX, LEFT_MINOR_TICKS, 21, false, false),
        xAxisDef(0, "top", LEFT_X_MIN, LEFT_X_MAX, LEFT_MAJOR_TICKS, 41, false, true),
        xAxisDef(0, "top", LEFT_X_MIN, LEFT_X_MAX, LEFT_MINOR_TICKS, 21, false, false),
        xAxisDef(1, "bottom", RIGHT_X_MIN, RIGHT_X_MAX, RIGHT_MAJOR_TICKS, 41, true, true),
        xAxisDef(1, "bottom", RIGHT_X_MIN, RIGHT_X_MAX, RIGHT_MINOR_TICKS, 21, false, false),
        xAxisDef(1, "top", RIGHT_X_MIN, RIGHT_X_MAX, RIGHT_MAJOR_TICKS, 41, false, true),
        xAxisDef(1, "top", RIGHT_X_MIN, RIGHT_X_MAX, RIGHT_MINOR_TICKS, 21, false, false),
      ],
      yAxis: [
        yAxisDef(0, "left", 1, 9, true, true),
        yAxisDef(0, "left", 10, 17, false, true),
        yAxisDef(0, "right", 1, 9, true, true),
        yAxisDef(0, "right", 10, 17, false, true),
        yAxisDef(1, "right", 1, 9, true, false),
      ],
      series,
      graphic: [
        {
          type: "text", x: 28, y: 1030, rotation: Math.PI / 2, silent: true,
          style: {
            text: "{f|F}{s|λ}{f| (relative intensity)}",
            fontFamily: FONT, fontSize: 37, fill: "#000",
            align: "center", verticalAlign: "middle",
            rich: {
              f: { fontFamily: FONT, fontSize: 37, fill: "#000", lineHeight: 46, verticalAlign: "middle" },
              s: { fontFamily: FONT, fontSize: 25, fill: "#000", lineHeight: 46, verticalAlign: "bottom" },
            },
          },
        },
        {
          type: "text", x: 543, y: 2170, silent: true,
          style: { text: "wavelength (micron)", fontFamily: FONT, fontSize: 40, fill: "#000", align: "center", verticalAlign: "middle" },
        },
      ],
    };
    chart.setOption(option);
    return () => chart.dispose();
  }, []);
  return <div ref={ref} style={{ position: "absolute", left: 0, top: 0, width: 1200, height: 2198, background: "#fff" }} />;
}
